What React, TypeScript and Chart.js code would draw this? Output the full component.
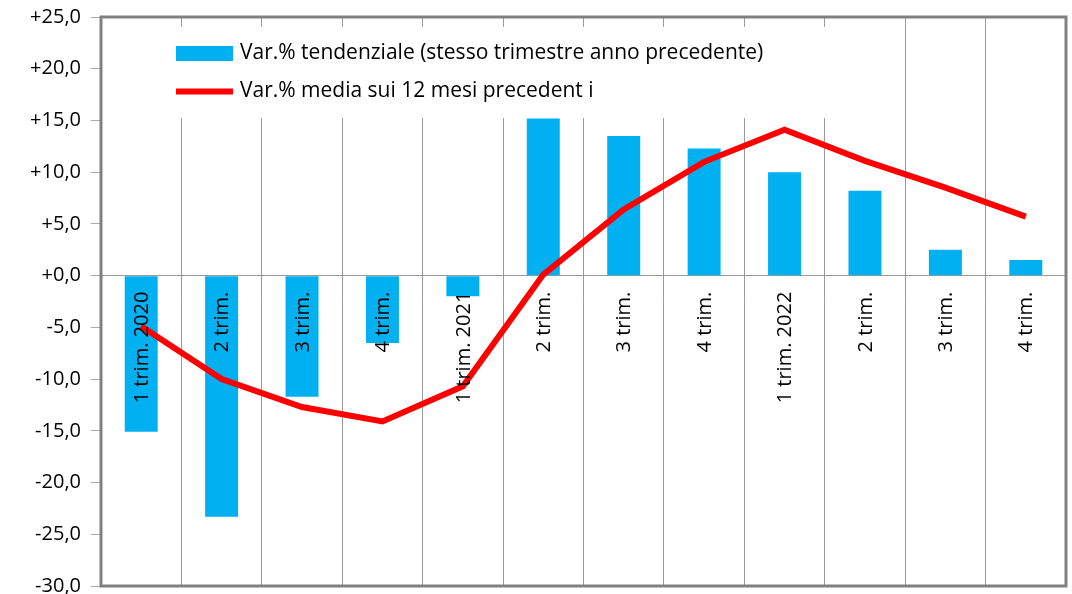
import React, { useEffect, useRef } from "react";
import { Chart, registerables } from "chart.js";

Chart.register(...registerables);

const categories = [
  "1 trim. 2020", "2 trim.", "3 trim.", "4 trim.",
  "1 trim. 2021", "2 trim.", "3 trim.", "4 trim.",
  "1 trim. 2022", "2 trim.", "3 trim.", "4 trim.",
];
const tendenziale = [-15.1, -23.3, -11.7, -6.5, -2.0, 15.2, 13.5, 12.3, 10.0, 8.2, 2.5, 1.5];
const media12 = [-4.9, -10.0, -12.7, -14.1, -10.7, 0.1, 6.4, 11.0, 14.1, 11.1, 8.5, 5.7];
const seriesNames = [
  "Var.% tendenziale (stesso trimestre anno precedente)",
  "Var.% media sui 12 mesi precedent i",
];
const yMin = -30;
const yMax = 25;
const yStep = 5;

const FONT = "'Open Sans', sans-serif";
const FSIZE = 20;
const LEGEND_FSIZE = 21;
const BLUE = "#00B0F0";
const RED = "#FF0000";
const GRAY = "#808080";
const GRID = "#9a9a9a";

function fmt(v: number): string {
  const s = Math.abs(v).toFixed(1).replace(".", ",");
  return (v < 0 ? "-" : "+") + s;
}

const overlayPlugin = {
  id: "overlay",
  afterDatasetsDraw(chart: any) {
    const { ctx, scales } = chart;
    const x = scales.x;
    const y = scales.y;
    const y0 = y.getPixelForValue(0);
    ctx.save();
    ctx.fillStyle = "#000";
    ctx.font = `${FSIZE}px ${FONT}`;
    ctx.textAlign = "right";
    ctx.textBaseline = "middle";
    categories.forEach((c, i) => {
      const cx = x.getPixelForValue(i);
      ctx.save();
      ctx.translate(cx + 1, y0 + 16);
      ctx.rotate(-Math.PI / 2);
      ctx.fillText(c, 0, 0);
      ctx.restore();
    });
    ctx.restore();
  },
  afterDraw(chart: any) {
    const { ctx, chartArea } = chart;
    ctx.save();
    // legend box
    ctx.fillStyle = "#fff";
    ctx.fillRect(130, 27, 745, 91);
    // swatches
    ctx.fillStyle = BLUE;
    ctx.fillRect(176, 46, 57, 15);
    ctx.strokeStyle = RED;
    ctx.lineWidth = 6;
    ctx.beginPath();
    ctx.moveTo(176, 91.5);
    ctx.lineTo(233, 91.5);
    ctx.stroke();
    ctx.fillStyle = "#000";
    ctx.font = `${LEGEND_FSIZE}px ${FONT}`;
    ctx.textAlign = "left";
    ctx.textBaseline = "middle";
    ctx.fillText(seriesNames[0], 240, 53);
    ctx.fillText(seriesNames[1], 240, 91);
    // plot border
    ctx.strokeStyle = GRAY;
    ctx.lineWidth = 3;
    ctx.strokeRect(chartArea.left, chartArea.top, chartArea.right - chartArea.left, chartArea.bottom - chartArea.top);
    ctx.restore();
  },
};

export default function App() {
  const ref = useRef<HTMLCanvasElement>(null);
  useEffect(() => {
    document.body.style.margin = "0";
    const canvas = ref.current!;
    const chart = new Chart(canvas, {
      type: "bar",
      data: {
        labels: categories,
        datasets: [
          {
            type: "line",
            label: seriesNames[1],
            data: media12,
            borderColor: RED,
            backgroundColor: RED,
            borderWidth: 6,
            pointRadius: 0,
            tension: 0,
            order: 0,
          } as any,
          {
            type: "bar",
            label: seriesNames[0],
            data: tendenziale,
            backgroundColor: BLUE,
            borderWidth: 0,
            categoryPercentage: 1,
            barPercentage: 0.41,
            order: 1,
          },
        ],
      },
      options: {
        animation: false,
        responsive: false,
        layout: { padding: { left: 0, right: 6, top: 17, bottom: 8 } },
        plugins: { legend: { display: false }, tooltip: { enabled: false } },
        scales: {
          x: {
            offset: true,
            grid: { offset: true, color: GRID, lineWidth: 1, drawTicks: false },
            border: { display: false },
            ticks: { display: false },
            afterFit(scale: any) {
              scale.height = 0;
            },
          },
          y: {
            min: yMin,
            max: yMax,
            border: { display: false },
            grid: {
              color: (c: any) => (c.tick && c.tick.value === 0 ? GRID : "rgba(0,0,0,0)"),
              tickColor: "#aaaaaa",
              tickLength: 20,
              tickBorderDash: [0, 10, 10, 10],
              lineWidth: 1,
            },
            ticks: {
              stepSize: yStep,
              padding: 0,
              color: "#000",
              font: { family: FONT, size: FSIZE, lineHeight: 0.7 },
              callback: (v: any) => fmt(Number(v)),
            },
            afterFit(scale: any) {
              scale.width = 101;
            },
          },
        },
      },
      plugins: [overlayPlugin],
    });
    return () => chart.destroy();
  }, []);
  return <canvas ref={ref} width={1072} height={594} style={{ display: "block" }} />;
}
